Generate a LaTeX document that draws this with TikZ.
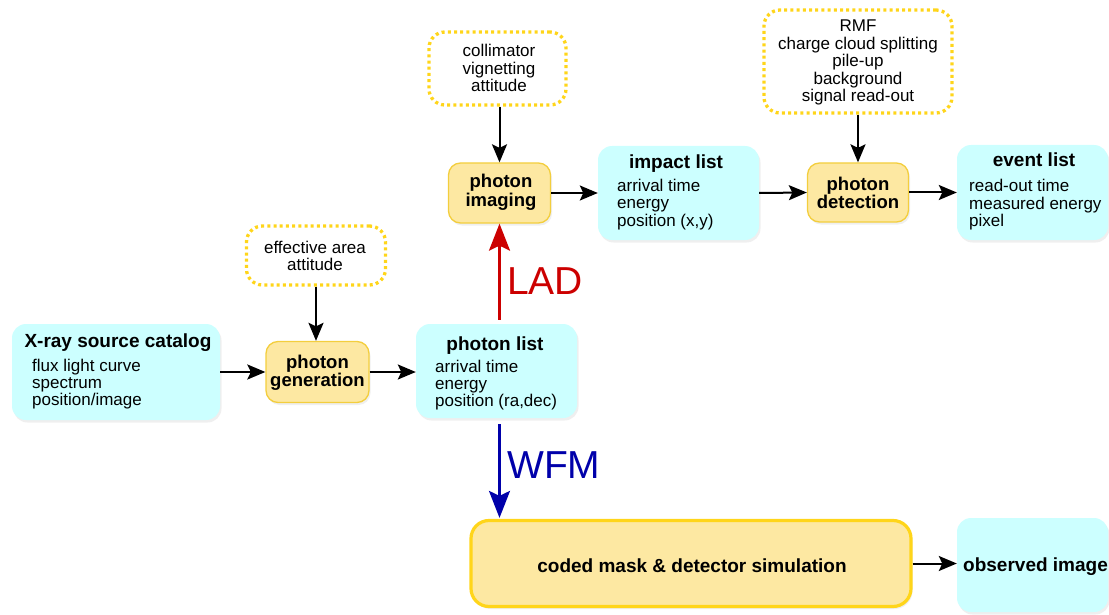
\documentclass[tikz,border=0pt]{standalone}
\usepackage{fontspec}
\setmainfont{Liberation Sans}
\usetikzlibrary{arrows.meta,shadows}

\definecolor{listcyan}{HTML}{CCFFFF}
\definecolor{procfill}{HTML}{FDE8A2}
\definecolor{procline}{HTML}{F3CE3E}
\definecolor{paramdot}{HTML}{FFD51A}
\definecolor{ladred}{HTML}{CC0000}
\definecolor{wfmblue}{HTML}{0000AA}

% stacked lines whose baseline is the first line's baseline
\newcommand{\leftlines}[1]{\begin{tabular}[t]{@{}l@{}}#1\end{tabular}}
\newcommand{\midlines}[1]{\begin{tabular}[t]{@{}c@{}}#1\end{tabular}}

\begin{document}
\begin{tikzpicture}[x=1pt,y=-1pt,
  boxsize/.style 2 args={minimum width=#1pt,minimum height=#2pt},
  softshadow/.style={drop shadow={opacity=0.13,shadow xshift=1.5pt,shadow yshift=-2.5pt}},
  listbox/.style={fill=listcyan,rounded corners=14pt,inner sep=0pt,softshadow},
  procbox/.style={fill=procfill,draw=procline,line width=1.3pt,rounded corners=12pt,inner sep=0pt,softshadow},
  bigproc/.style={fill=procfill,draw=paramdot,line width=3.2pt,rounded corners=18pt,inner sep=0pt,softshadow},
  parambox/.style={draw=paramdot,line width=3.3pt,dash pattern=on 3pt off 3.2pt,rounded corners=16pt,inner sep=0pt},
  titletext/.style={font=\bfseries\fontsize{19}{19}\selectfont,inner sep=0pt,anchor=base},
  bodytext/.style={font=\fontsize{17}{17}\selectfont,inner sep=0pt,anchor=base west},
  proctext/.style={font=\bfseries\fontsize{18.5}{17.5}\selectfont,inner sep=0pt,anchor=base},
  paramtext/.style={font=\fontsize{17}{17}\selectfont,inner sep=0pt,anchor=base},
  bigtext/.style={font=\fontsize{39}{39}\selectfont,inner sep=0pt,anchor=base west},
  arr/.style={line width=2pt,-{Stealth[length=18pt,width=15pt,inset=3.5pt]}},
  colarr/.style={line width=2.4pt,-{Stealth[length=27pt,width=21pt,inset=5pt]}}
]
\useasboundingbox (0,0) rectangle (1109,615);

% ---- boxes ----
\node[listbox,boxsize={208}{96}] (xray) at (116,372) {};
\node[procbox,boxsize={103}{61}] (gen) at (317.5,372) {};
\node[parambox,boxsize={139}{59}] (effarea) at (316,255.5) {};
\node[listbox,boxsize={161}{94}] (plist) at (496.5,371) {};
\node[procbox,boxsize={102}{60}] (imaging) at (499.5,193) {};
\node[parambox,boxsize={137}{73}] (collim) at (497.5,68.5) {};
\node[listbox,boxsize={161}{94}] (impact) at (678.5,193) {};
\node[procbox,boxsize={101}{59}] (detect) at (858,192.5) {};
\node[parambox,boxsize={188}{103}] (rmf) at (858,61.5) {};
\node[listbox,boxsize={151}{95}] (event) at (1032.5,192.5) {};
\node[bigproc,boxsize={440}{86}] (coded) at (691,563.5) {};
\node[listbox,boxsize={151}{94}] (observed) at (1032.5,565) {};

% ---- texts ----
\node[titletext] (xraytitle) at (118,347) {X-ray source catalog};
\node[bodytext] (xraybody) at (32,371) {\leftlines{flux light curve\\spectrum\\position/image}};

\node[proctext] (gentext) at (317.5,368) {\midlines{photon\\generation}};
\node[paramtext] (efftext) at (315,253) {\midlines{effective area\\attitude}};

\node[titletext] (plisttitle) at (495,350) {photon list};
\node[bodytext] (plistbody) at (435,372) {\leftlines{arrival time\\energy\\position (ra,dec)}};

\node[proctext] (imgtext) at (501,188) {\midlines{photon\\imaging}};
\node[paramtext] (colltext) at (499,57) {\midlines{collimator\\vignetting\\attitude}};

\node[titletext] (impacttitle) at (676,168) {impact list};
\node[bodytext] (impactbody) at (617,192) {\leftlines{arrival time\\energy\\position (x,y)}};

\node[proctext] (dettext) at (858,190) {\midlines{photon\\detection}};
\node[paramtext] (rmftext) at (858,32) {\midlines{RMF\\charge cloud splitting\\pile-up\\background\\signal read-out}};

\node[titletext] (eventtitle) at (1034,167) {event list};
\node[bodytext] (eventbody) at (969,192) {\leftlines{read-out time\\measured energy\\pixel}};

\node[titletext] (codedtext) at (692,572) {coded mask \& detector simulation};
\node[titletext,anchor=base west] (obstext) at (963,571) {observed image};

\node[bigtext,text=ladred] (lad) at (507,294) {LAD};
\node[bigtext,text=wfmblue] (wfm) at (507,478) {WFM};

% ---- connectors ----
\draw[arr] (effarea.south) -- (effarea.south |- gen.north);
\draw[arr] (xray.east) -- (gen.west);
\draw[arr] (gen.east) -- (gen.east -| plist.west);
\draw[arr] (collim.south -| imaging.north) -- (imaging.north);
\draw[arr] (imaging.east) -- (impact.west);
\draw[arr] (impact.east) -- (detect.west);
\draw[arr] (detect.east) -- (detect.east -| event.west);
\draw[arr] (rmf.south) -- (detect.north);
\draw[arr] (coded.east) -- (coded.east -| observed.west);
\draw[colarr,draw=ladred,fill=ladred,shorten <=4pt] (imaging.south |- plist.north) -- (imaging.south);
\draw[colarr,draw=wfmblue,fill=wfmblue,shorten <=6pt,shorten >=1pt] (imaging.south |- plist.south) -- (imaging.south |- coded.north);
\end{tikzpicture}
\end{document}
